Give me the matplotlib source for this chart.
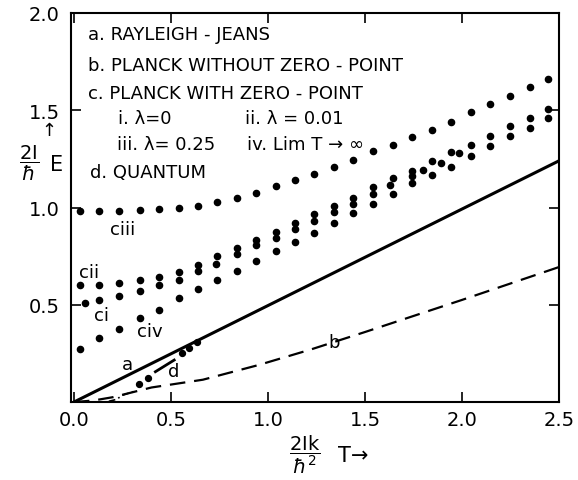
import numpy as np
import matplotlib
matplotlib.use('Agg')
import matplotlib.pyplot as plt

plt.rcParams['font.family'] = ['DejaVu Sans']
plt.rcParams['mathtext.fontset'] = 'dejavusans'

# classical (Planck with zero-point) series
x_c = [0.03, 0.13, 0.235, 0.34, 0.44, 0.54, 0.64, 0.74, 0.84, 0.94, 1.04, 1.14, 1.24,
       1.34, 1.44, 1.54, 1.645, 1.745, 1.845, 1.945, 2.045, 2.145, 2.25, 2.35, 2.445]
c_iii = [0.98, 0.98, 0.98, 0.985, 0.99, 1.0, 1.01, 1.03, 1.05, 1.075, 1.11, 1.14, 1.17,
         1.21, 1.245, 1.29, 1.32, 1.36, 1.40, 1.44, 1.49, 1.53, 1.575, 1.62, 1.66]
c_ii = [0.60, 0.60, 0.61, 0.625, 0.645, 0.67, 0.705, 0.75, 0.79, 0.835, 0.875, 0.92, 0.965,
        1.01, 1.05, 1.105, 1.15, 1.19, 1.24, 1.285, 1.32, 1.37, 1.42, 1.46, 1.505]
c_iv = [0.275, 0.33, 0.375, 0.43, 0.475, 0.535, 0.58, 0.63, 0.675, 0.725, 0.775, 0.825, 0.87,
        0.92, 0.97, 1.02, 1.07, 1.125, 1.167, 1.21, 1.265, 1.315, 1.365, 1.41, 1.46]
x_ci = [0.057, 0.13, 0.235, 0.34, 0.44, 0.54, 0.64, 0.73, 0.84, 0.94, 1.04, 1.14, 1.24,
        1.34, 1.44, 1.54, 1.63, 1.74, 1.80, 1.89, 1.985]
c_i = [0.51, 0.525, 0.545, 0.57, 0.60, 0.63, 0.675, 0.71, 0.76, 0.805, 0.845, 0.89, 0.93,
       0.975, 1.02, 1.07, 1.115, 1.16, 1.195, 1.23, 1.28]

# a. Rayleigh-Jeans
x_a = [0.0, 2.5]
y_a = [0.0, 1.24]

# b. Planck without zero-point
x_b = [0.0, 0.1, 0.2, 0.3, 0.4, 0.5, 0.665, 0.95, 1.22, 1.5, 2.0, 2.5]
y_b = [0.0, 0.008, 0.025, 0.05, 0.075, 0.09, 0.115, 0.19, 0.27, 0.36, 0.525, 0.694]

# d. quantum
d_dot_x = [0.335, 0.383, 0.555, 0.593, 0.632]
d_dot_y = [0.093, 0.123, 0.252, 0.278, 0.307]
d_dash_x = [0.42, 0.517]
d_dash_y = [0.156, 0.216]
d_low_x = [0.18, 0.22, 0.25, 0.31]
d_low_y = [0.004, 0.014, 0.035, 0.055]

fig = plt.figure(figsize=(5.78, 4.81), dpi=100)
ax = fig.add_axes([0.1228, 0.162, 0.8443, 0.809])

ax.plot(x_a, y_a, color='black', lw=2.2, solid_capstyle='butt')
ax.plot(x_b, y_b, color='black', lw=1.6, linestyle=(0, (7, 4)))
ax.plot(d_dash_x, d_dash_y, color='black', lw=2.0)
ax.plot(d_low_x, d_low_y, color='black', lw=1.2, linestyle=(0, (4, 2, 1, 2)))
ax.scatter(d_dot_x, d_dot_y, s=18, color='black', zorder=3)

for ys in (c_iii, c_ii, c_iv):
    ax.scatter(x_c, ys, s=20, color='black', zorder=3)
ax.scatter(x_ci, c_i, s=20, color='black', zorder=3)

# legend text block
fs = 13
ax.text(0.072, 1.89, 'a. RAYLEIGH - JEANS', fontsize=fs, va='center')
ax.text(0.072, 1.733, 'b. PLANCK WITHOUT ZERO - POINT', fontsize=fs, va='center')
ax.text(0.072, 1.59, 'c. PLANCK WITH ZERO - POINT', fontsize=fs, va='center')
ax.text(0.227, 1.46, 'i. λ=0', fontsize=fs, va='center')
ax.text(0.88, 1.46, 'ii. λ = 0.01', fontsize=fs, va='center')
ax.text(0.22, 1.326, 'iii. λ= 0.25', fontsize=fs, va='center')
ax.text(0.89, 1.326, 'iv. Lim T → ∞', fontsize=fs, va='center')
ax.text(0.082, 1.18, 'd. QUANTUM', fontsize=fs, va='center')

# curve labels
ax.text(0.25, 0.89, 'ciii', fontsize=13, ha='center', va='center')
ax.text(0.08, 0.67, 'cii', fontsize=13, ha='center', va='center')
ax.text(0.14, 0.45, 'ci', fontsize=13, ha='center', va='center')
ax.text(0.39, 0.367, 'civ', fontsize=13, ha='center', va='center')
ax.text(0.275, 0.195, 'a', fontsize=13, ha='center', va='center')
ax.text(0.515, 0.16, 'd', fontsize=13, ha='center', va='center')
ax.text(1.34, 0.31, 'b', fontsize=13, ha='center', va='center')

ax.set_xlim(-0.015, 2.5)
ax.set_ylim(0, 2.0)
ax.set_xticks([0.0, 0.5, 1.0, 1.5, 2.0, 2.5])
ax.set_yticks([0.5, 1.0, 1.5, 2.0])
ax.set_xticklabels(['0.0', '0.5', '1.0', '1.5', '2.0', '2.5'])
ax.set_yticklabels(['0.5', '1.0', '1.5', '2.0'])
ax.tick_params(direction='in', length=7, width=1.2, labelsize=14,
               top=True, right=True, pad=6)
ax.tick_params(axis='y', pad=8)
for sp in ax.spines.values():
    sp.set_linewidth(1.5)

# axis labels
fig.text(0.05, 0.66, r'$\dfrac{\mathrm{2I}}{\hbar}$', fontsize=14, ha='center', va='center')
fig.text(0.098, 0.657, 'E', fontsize=15, ha='center', va='center')
fig.text(0.085, 0.728, '↑', fontsize=13, ha='center', va='center')
fig.text(0.528, 0.054, r'$\dfrac{\mathrm{2Ik}}{\hbar^2}$', fontsize=14, ha='center', va='center')
fig.text(0.585, 0.053, 'T→', fontsize=15, ha='left', va='center')

fig.savefig('out.png', dpi=100)
